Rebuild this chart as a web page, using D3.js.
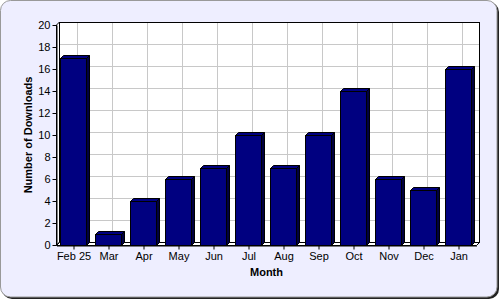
<!DOCTYPE html>
<html>
<head>
<meta charset="utf-8">
<script src="https://cdn.jsdelivr.net/npm/d3@7/dist/d3.min.js"></script>
<style>
  body { margin: 0; background: #fff; }
  text { font-family: "Liberation Sans", Arial, sans-serif; }
</style>
</head>
<body>
<div id="chart"></div>
<script>
// data
var months = ["Feb 25", "Mar", "Apr", "May", "Jun", "Jul", "Aug", "Sep", "Oct", "Nov", "Dec", "Jan"];
var downloads = [17, 1, 4, 6, 7, 10, 7, 10, 14, 6, 5, 16];
var yTicks = [0, 2, 4, 6, 8, 10, 12, 14, 16, 18, 20];

var W = 500, H = 300;
var depth = 3;       // wall depth
var barDepth = 3;    // bar depth
var pLeft = 56.5, pRight = 476.5, pTop = 25, pBottom = 245;

var svg = d3.select("#chart").append("svg")
    .attr("width", W).attr("height", H);

// outer frame with shadow
svg.append("rect")
    .attr("x", 2).attr("y", 2).attr("width", W - 3).attr("height", H - 3)
    .attr("rx", 10).attr("fill", "#222");
svg.append("rect")
    .attr("x", 0.5).attr("y", 0.5).attr("width", W - 3.5).attr("height", H - 3.5)
    .attr("rx", 10).attr("fill", "#eeeeff").attr("stroke", "#999").attr("stroke-width", 1);

var x = d3.scaleBand().domain(months).range([pLeft, pRight]).padding(0);
var y = d3.scaleLinear().domain([0, 20]).range([pBottom, pTop]);

// back wall
svg.append("rect")
    .attr("x", pLeft + depth).attr("y", pTop - depth)
    .attr("width", pRight - pLeft).attr("height", pBottom - pTop)
    .attr("fill", "#fff");

// grid on back wall
var grid = svg.append("g").attr("transform", "translate(" + depth + "," + (-depth) + ")");
grid.selectAll("line.h").data(yTicks).enter().append("line")
    .attr("x1", pLeft).attr("x2", pRight)
    .attr("y1", function(d) { return Math.round(y(d)) + 0.5; })
    .attr("y2", function(d) { return Math.round(y(d)) + 0.5; })
    .attr("stroke", "#c8c8c8");
grid.selectAll("line.v").data(months).enter().append("line")
    .attr("x1", function(d) { return Math.round(x(d) + x.bandwidth() / 2) + 0.5; })
    .attr("x2", function(d) { return Math.round(x(d) + x.bandwidth() / 2) + 0.5; })
    .attr("y1", pTop).attr("y2", pBottom)
    .attr("stroke", "#c8c8c8");

// back wall border
svg.append("rect")
    .attr("x", pLeft + depth).attr("y", pTop - depth + 0.5)
    .attr("width", pRight - pLeft).attr("height", pBottom - pTop)
    .attr("fill", "none").attr("stroke", "#000");

// left wall and floor
svg.append("path")
    .attr("d", "M" + pLeft + "," + pBottom + "L" + pLeft + "," + pTop +
               "L" + (pLeft + depth) + "," + (pTop - depth) + "L" + (pLeft + depth) + "," + (pBottom - depth) + "Z")
    .attr("fill", "#fff").attr("stroke", "#000");
svg.append("path")
    .attr("d", "M" + pLeft + "," + (pBottom + 0.5) + "L" + pRight + "," + (pBottom + 0.5) +
               "L" + (pRight + depth) + "," + (pBottom + 0.5 - depth) + "L" + (pLeft + depth) + "," + (pBottom + 0.5 - depth) + "Z")
    .attr("fill", "#fff").attr("stroke", "#000");

// bars
var barW = 26;
var bars = svg.selectAll("g.bar").data(months).enter().append("g").attr("class", "bar");
bars.each(function(m, i) {
  var g = d3.select(this);
  var cx = x(m) + x.bandwidth() / 2;
  var x0 = Math.round(cx - (barW + barDepth) / 2) + 0.5;
  var x1 = x0 + barW;
  var yt = Math.round(y(downloads[i])) + 0.5;
  var yb = pBottom + 0.5;
  // side
  g.append("path")
      .attr("d", "M" + x1 + "," + yb + "L" + x1 + "," + yt + "L" + (x1 + barDepth) + "," + (yt - barDepth) +
                 "L" + (x1 + barDepth) + "," + (yb - barDepth) + "Z")
      .attr("fill", "#000040").attr("stroke", "#000");
  // top
  g.append("path")
      .attr("d", "M" + x0 + "," + yt + "L" + (x0 + barDepth) + "," + (yt - barDepth) + "L" + (x1 + barDepth) + "," + (yt - barDepth) +
                 "L" + x1 + "," + yt + "Z")
      .attr("fill", "#000080").attr("stroke", "#000");
  // front
  g.append("rect")
      .attr("x", x0).attr("y", yt).attr("width", barW).attr("height", yb - yt)
      .attr("fill", "#000080").attr("stroke", "#000");
});

// axes
var yAxis = svg.append("g").attr("transform", "translate(" + pLeft + ",0)")
    .call(d3.axisLeft(y).tickValues(yTicks).tickSize(4).tickSizeOuter(0).tickPadding(2));
var xAxis = svg.append("g").attr("transform", "translate(0," + (pBottom + 0.5) + ")")
    .call(d3.axisBottom(x).tickSize(4).tickSizeOuter(0).tickPadding(3));
[yAxis, xAxis].forEach(function(a) {
  a.select(".domain").attr("stroke", "#000");
  a.selectAll(".tick line").attr("stroke", "#000");
  a.selectAll(".tick text").attr("fill", "#000")
      .style("font-family", "'Liberation Sans', Arial, sans-serif").style("font-size", "11px");
});

// titles
svg.append("text")
    .attr("x", (pLeft + pRight) / 2).attr("y", 276)
    .attr("text-anchor", "middle").attr("font-weight", "bold").attr("font-size", "11px")
    .text("Month");
svg.append("text")
    .attr("transform", "translate(32," + ((pTop + pBottom) / 2) + ") rotate(-90)")
    .attr("text-anchor", "middle").attr("font-weight", "bold").attr("font-size", "11px")
    .text("Number of Downloads");
</script>
</body>
</html>
